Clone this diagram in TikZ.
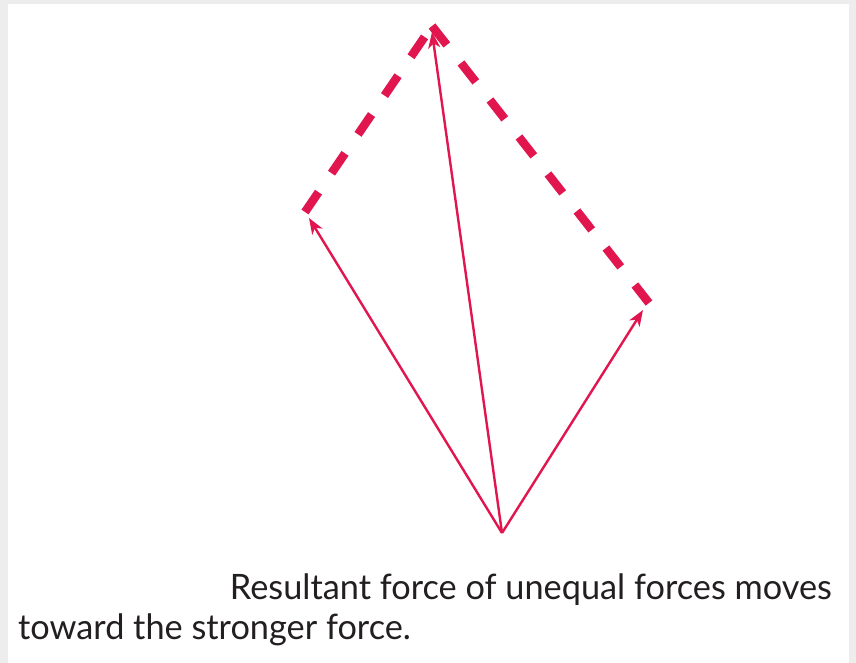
\documentclass[tikz,border=0pt]{standalone}
\usepackage{fontspec}
\setmainfont{Lato}
\usetikzlibrary{arrows.meta}
\definecolor{forcered}{HTML}{E2164F}
\definecolor{frame}{HTML}{EDEDED}
\definecolor{ink}{HTML}{231F20}
\begin{document}
\begin{tikzpicture}[x=1pt,y=-1pt,
  force/.style={draw=forcered, line width=2.4pt, -{Stealth[length=16pt,width=12pt,inset=4.5pt]}},
  guide/.style={draw=forcered, line width=8.5pt, dash pattern=on 24pt off 23pt},
  caption/.style={inner sep=0pt, text=ink, font=\fontsize{35}{42}\selectfont}]
\useasboundingbox (0,0) rectangle (856,663);
\fill[frame] (0,0) rectangle (856,663);
\fill[white] (8,4) rectangle (849,663);
\coordinate (O) at (502,533);
\coordinate (L) at (305,212);
\coordinate (T) at (432,26);
\coordinate (R) at (649,303);
\coordinate (Lt) at (309,218);
\coordinate (Tt) at (432,32);
\coordinate (Rt) at (643,310);
\draw[guide] (L) -- (T);
\draw[guide] (T) -- (R);
\draw[force] (O) -- (Lt);
\draw[force] (O) -- (Tt);
\draw[force] (O) -- (Rt);
\node[caption, anchor=base east] (c1) at (832,599) {\scalebox{0.98}[1]{Resultant force of unequal forces moves}};
\node[caption, anchor=base west] (c2) at (18,639) {\scalebox{0.98}[1]{toward the stronger force.}};
\end{tikzpicture}
\end{document}
